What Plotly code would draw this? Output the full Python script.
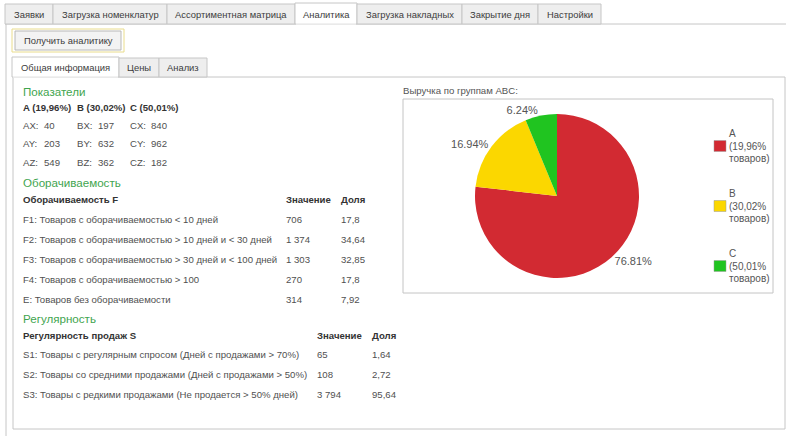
import plotly.graph_objects as go

# ---------------- data ----------------
TOP_TABS = ["Заявки", "Загрузка номенклатур", "Ассортиментная матрица", "Аналитика",
            "Загрузка накладных", "Закрытие дня", "Настройки"]
SUB_TABS = ["Общая информация", "Цены", "Анализ"]
BUTTON_TEXT = "Получить аналитику"

ABC_HEADERS = ["A (19,96%)", "B (30,02%)", "C (50,01%)"]
ABC_CODES = [["AX", "AY", "AZ"], ["BX", "BY", "BZ"], ["CX", "CY", "CZ"]]
ABC_VALUES = [[40, 203, 549], [197, 632, 362], [840, 962, 182]]

F_TITLE = "Оборачиваемость"
F_HEADER = "Оборачиваемость F"
F_LABELS = ["F1: Товаров с оборачиваемостью < 10 дней",
            "F2: Товаров с оборачиваемостью > 10 дней и < 30 дней",
            "F3: Товаров с оборачиваемостью > 30 дней и < 100 дней",
            "F4: Товаров с оборачиваемостью > 100",
            "E: Товаров без оборачиваемости"]
F_VALUES = [706, 1374, 1303, 270, 314]
F_SHARES = [17.8, 34.64, 32.85, 17.8, 7.92]

S_TITLE = "Регулярность"
S_HEADER = "Регулярность продаж S"
S_LABELS = ["S1: Товары с регулярным спросом (Дней с продажами > 70%)",
            "S2: Товары со средними продажами (Дней с продажами > 50%)",
            "S3: Товары с редкими продажами (Не продается > 50% дней)"]
S_VALUES = [65, 108, 3794]
S_SHARES = [1.64, 2.72, 95.64]

PIE_TITLE = "Выручка по группам ABC:"
PIE_GROUPS = ["A", "B", "C"]
PIE_REVENUE = [76.81, 16.94, 6.24]
PIE_ITEM_SHARE = ["19,96%", "30,02%", "50,01%"]
PIE_COLORS = ["#d22a32", "#fbd700", "#20c420"]

# ---------------- helpers ----------------
W, H = 786, 436
FONT = "Liberation Sans, Arial, sans-serif"
TXT = "#505050"
DARK = "#333333"
GREEN = "#3fa54f"
BORDER = "#c6c6c6"
FS = 9.6
TAB_FS = 9.4

shapes = []
annos = []


def num(v):
    return f"{v:,}".replace(",", " ")


def dec(v):
    return str(v).replace(".", ",")


def rect(x0, y0, x1, y1, fill="rgba(0,0,0,0)", line=BORDER, lw=1):
    shapes.append(dict(type="rect", xref="x", yref="y", x0=x0, y0=y0, x1=x1, y1=y1,
                       fillcolor=fill, line=dict(color=line, width=lw), layer="below"))


def hline(x0, x1, y, color=BORDER):
    shapes.append(dict(type="line", xref="x", yref="y", x0=x0, x1=x1, y0=y, y1=y,
                       line=dict(color=color, width=1), layer="below"))


def vline(x, y0, y1, color=BORDER):
    shapes.append(dict(type="line", xref="x", yref="y", x0=x, x1=x, y0=y0, y1=y1,
                       line=dict(color=color, width=1), layer="below"))


def text(x, y, s, size=FS, color=TXT, anchor="left", bold=False):
    if bold:
        s = "<b>" + s + "</b>"
    annos.append(dict(x=x, y=y, xref="x", yref="y", text=s, showarrow=False,
                      xanchor=anchor, yanchor="middle", borderpad=0,
                      font=dict(family=FONT, size=size, color=color)))


# ---------------- top tabs ----------------
top_edges = [5, 53, 167, 295, 357, 462, 538, 601]
active_top = 3
hline(5, W, 24)
for i, lab in enumerate(TOP_TABS):
    x0, x1 = top_edges[i], top_edges[i + 1]
    if i == active_top:
        rect(x0, 3, x1, 24, fill="white")
        hline(x0 + 1, x1 - 1, 24, color="white")
    else:
        rect(x0, 4, x1, 24, fill="#eeeeee")
    text((x0 + x1) / 2, 14, lab, size=TAB_FS, color="#3c3c3c", anchor="center")
vline(6, 24, H)

# ---------------- button ----------------
rect(12, 29, 124, 52, fill="rgba(0,0,0,0)", line="#e9dc8c")
rect(15, 31, 121, 50, fill="#f3f3f3", line="#b8b8b8")
text(68, 40.5, BUTTON_TEXT, size=TAB_FS, color="#3c3c3c", anchor="center")

# ---------------- sub tabs / panel ----------------
sub_edges = [12, 119, 159, 207]
vline(13, 77, 429)
vline(785, 77, 429)
hline(13, 785, 429)
hline(13, 785, 77)
for i, lab in enumerate(SUB_TABS):
    x0, x1 = sub_edges[i], sub_edges[i + 1]
    if i == 0:
        rect(x0, 57, x1, 77, fill="white")
        hline(x0 + 1, x1 - 1, 77, color="white")
    else:
        rect(x0, 58, x1, 77, fill="#eeeeee")
    text((x0 + x1) / 2, 67.5, lab, size=TAB_FS, color="#3c3c3c", anchor="center")

# ---------------- left content ----------------
GFS = 11.6
text(22, 91, "Показатели", size=GFS, color=GREEN)
col_x = [22, 76, 129]
val_dx = 21
for c in range(3):
    text(col_x[c], 107, ABC_HEADERS[c], color=DARK, bold=True)
    for r in range(3):
        y = 125 + r * 18.5
        text(col_x[c], y, ABC_CODES[c][r] + ":", color=TXT)
        text(col_x[c] + val_dx, y, str(ABC_VALUES[c][r]), color=TXT)

text(22, 182, F_TITLE, size=GFS, color=GREEN)
text(22, 199, F_HEADER, color=DARK, bold=True)
text(285, 199, "Значение", color=DARK, bold=True)
text(340, 199, "Доля", color=DARK, bold=True)
for i, lab in enumerate(F_LABELS):
    y = 219 + i * 20
    text(22, y, lab, color=TXT)
    text(285, y, num(F_VALUES[i]), color=TXT)
    text(340, y, dec(F_SHARES[i]), color=TXT)

text(22, 318, S_TITLE, size=GFS, color=GREEN)
text(22, 335, S_HEADER, color=DARK, bold=True)
text(316, 335, "Значение", color=DARK, bold=True)
text(371, 335, "Доля", color=DARK, bold=True)
for i, lab in enumerate(S_LABELS):
    y = 354 + i * 20
    text(22, y, lab, color=TXT)
    text(316, y, num(S_VALUES[i]), color=TXT)
    text(371, y, dec(S_SHARES[i]), color=TXT)

# ---------------- chart box ----------------
text(402, 90, PIE_TITLE, color="#555555")
rect(403, 99, 773, 293, fill="white", line="#c4c4c4")

# legend (drawn beside the pie)
leg_y = [146, 206, 266]
for i, g in enumerate(PIE_GROUPS):
    yc = leg_y[i]
    shapes.append(dict(type="rect", xref="x", yref="y", x0=714, x1=726, y0=yc - 5.5, y1=yc + 5.5,
                       fillcolor=PIE_COLORS[i], line=dict(color="#9a9a9a", width=0.5)))
    text(728, yc - 13, g, size=10, color="#555555")
    text(728, yc, "(" + PIE_ITEM_SHARE[i], size=10, color="#555555")
    text(728, yc + 12.5, "товаров)", size=10, color="#555555")

# pie geometry (pixels)
cx, cy, rad = 557, 196, 82
pie = go.Pie(
    labels=PIE_GROUPS,
    values=PIE_REVENUE,
    sort=False,
    direction="clockwise",
    rotation=0,
    marker=dict(colors=PIE_COLORS, line=dict(width=0)),
    textposition="outside",
    texttemplate="%{value:.2f}%",
    textfont=dict(family=FONT, size=11, color="#555555"),
    showlegend=False,
    hoverinfo="label+value",
    domain=dict(x=[(cx - rad) / W, (cx + rad) / W], y=[1 - (cy + rad) / H, 1 - (cy - rad) / H]),
)

fig = go.Figure(pie)
fig.update_layout(
    width=W, height=H,
    margin=dict(l=0, r=0, t=0, b=0),
    paper_bgcolor="white", plot_bgcolor="rgba(0,0,0,0)",
    xaxis=dict(range=[0, W], visible=False, domain=[0, 1], fixedrange=True),
    yaxis=dict(range=[H, 0], visible=False, domain=[0, 1], fixedrange=True),
    shapes=shapes, annotations=annos,
    showlegend=False,
)
fig.write_html("out.html")
